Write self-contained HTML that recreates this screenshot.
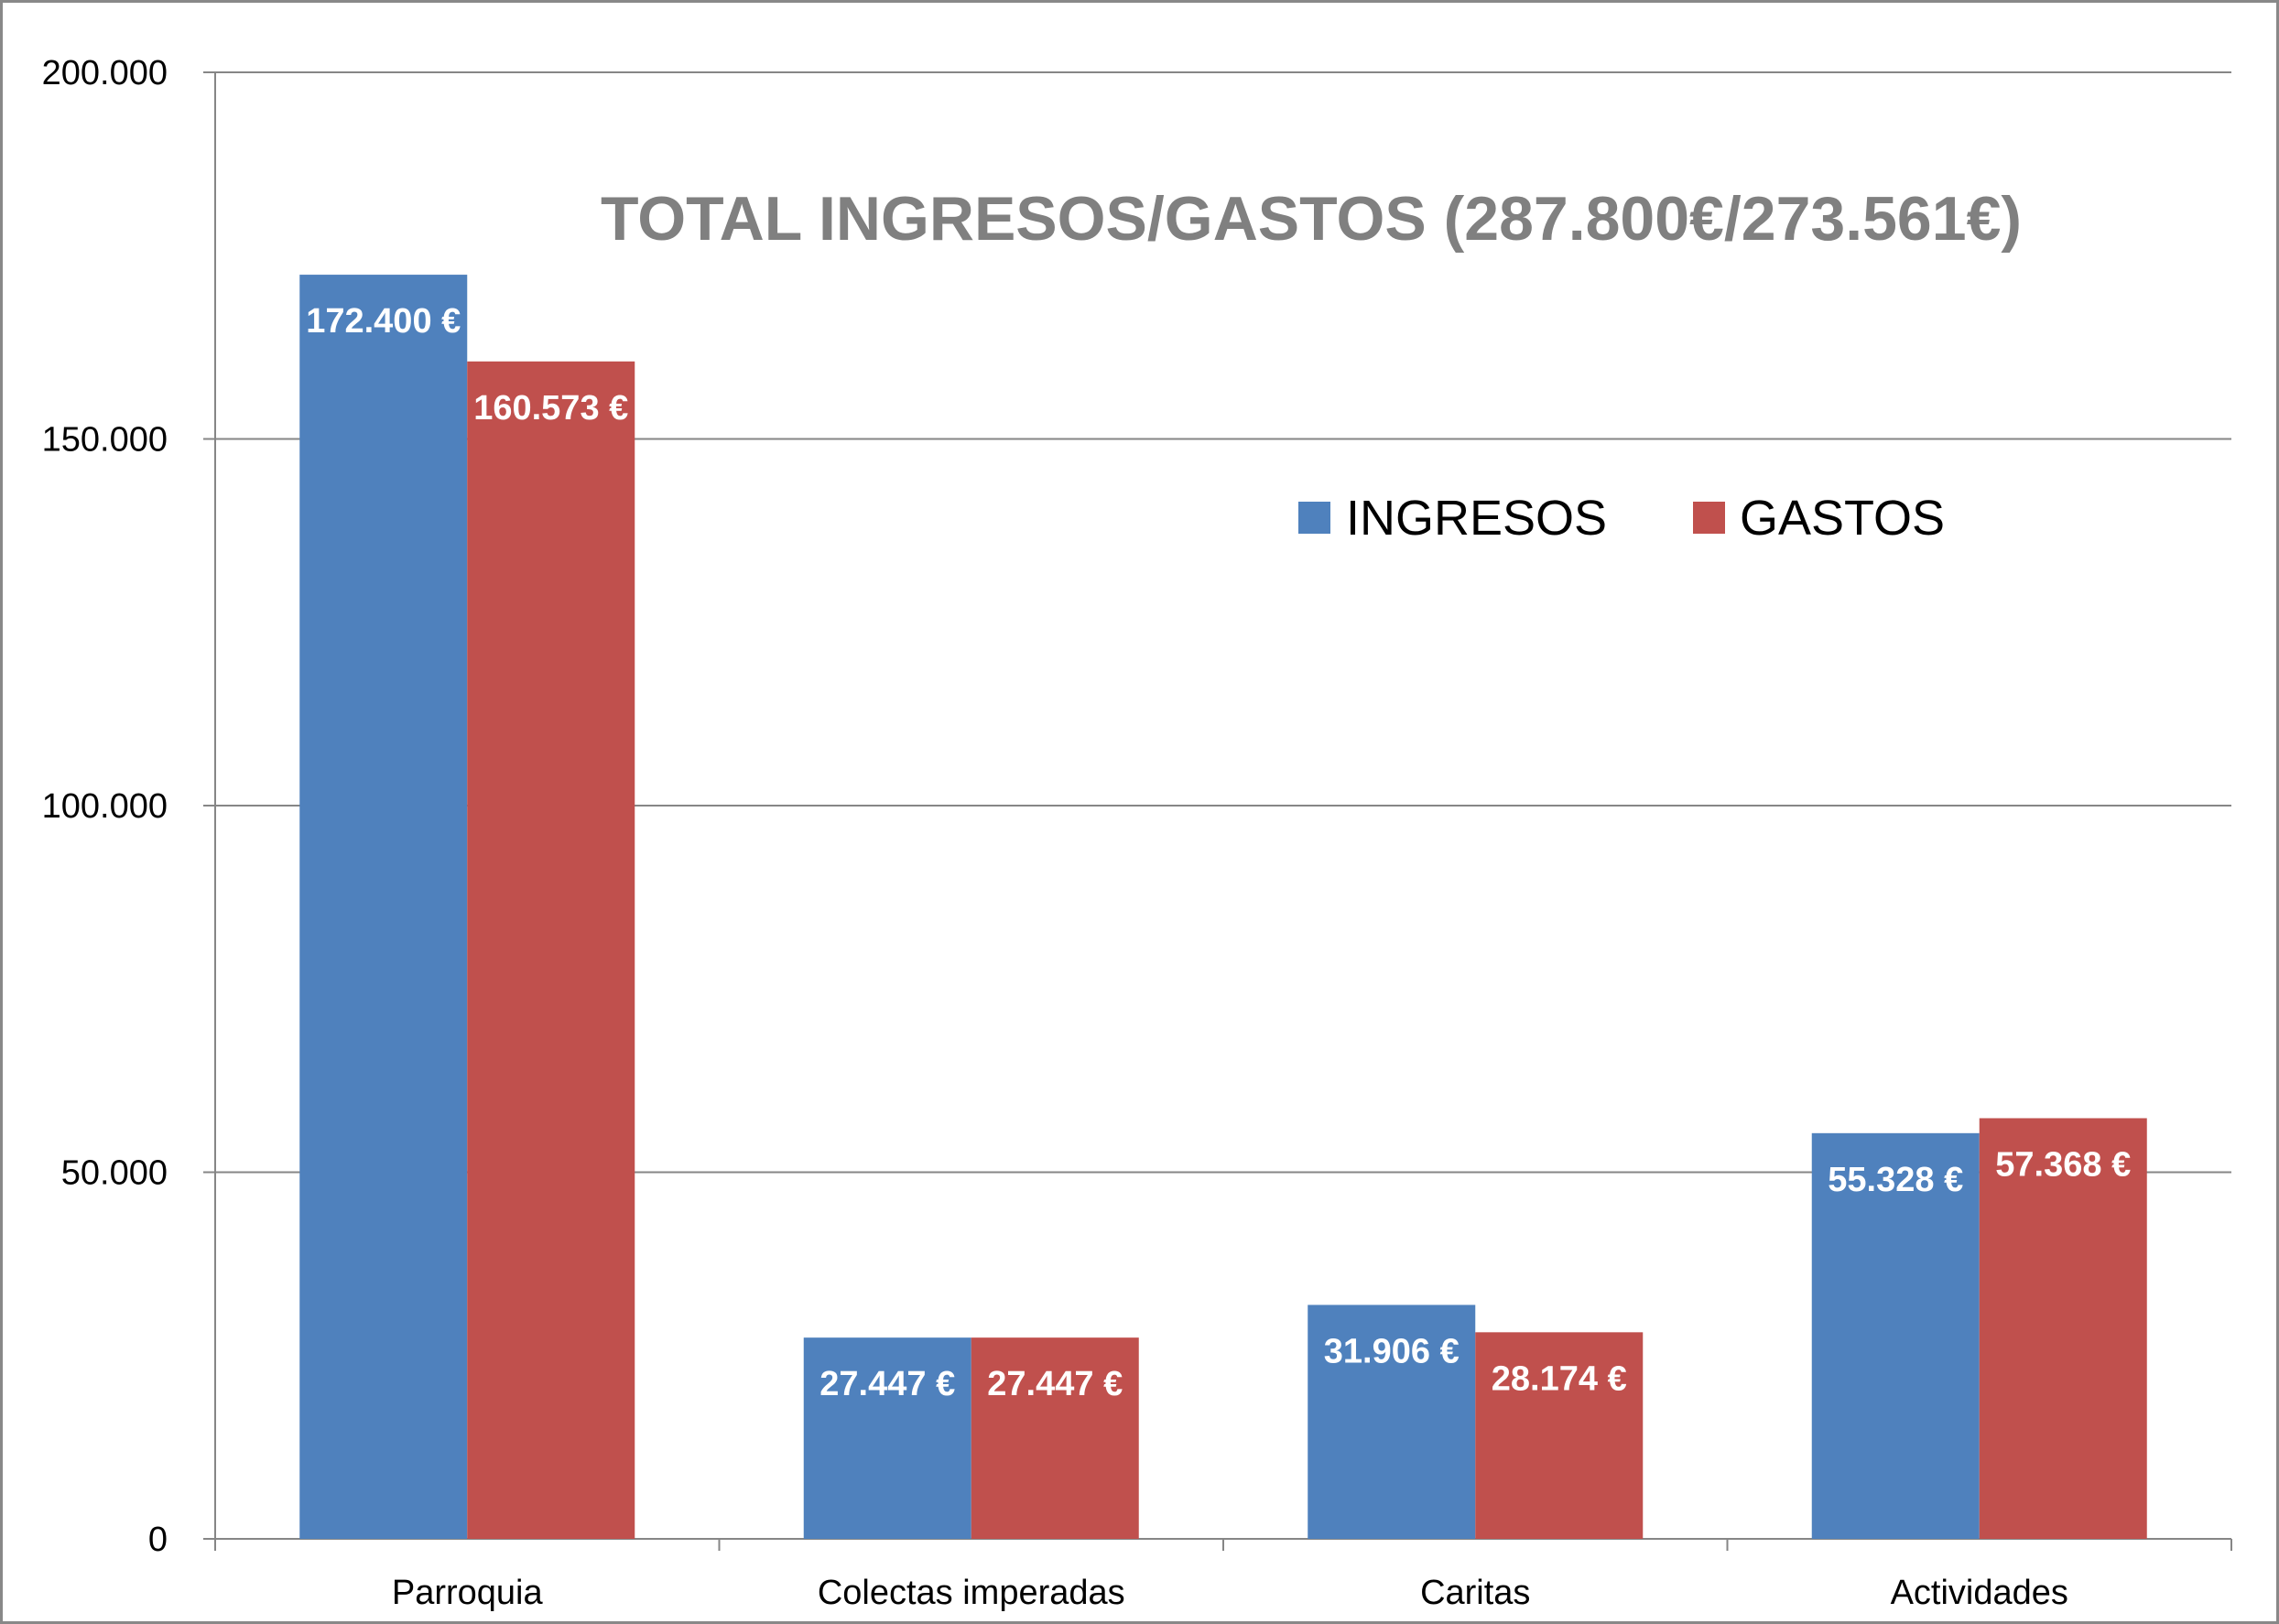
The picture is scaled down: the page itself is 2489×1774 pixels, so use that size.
<!DOCTYPE html>
<html><head><meta charset="utf-8"><style>
html,body{margin:0;padding:0;background:#fff}
svg{display:block}
text{font-family:"Liberation Sans",Calibri,sans-serif}
</style></head><body>
<svg id="chart" width="2489" height="1774" viewBox="0 0 2489 1774" xmlns="http://www.w3.org/2000/svg">
<rect x="1.5" y="1.5" width="2486" height="1771" fill="#fff" stroke="#888" stroke-width="3"/>
<g id="grid"></g>
<g id="bars"></g>
<g id="labels"></g>
<text x="1432" y="262" text-anchor="middle" font-size="68" font-weight="bold" fill="#808080">TOTAL INGRESOS/GASTOS (287.800€/273.561€)</text>
<g>
<rect x="1418" y="548" width="35" height="35" fill="#4f81bd"/>
<text x="1470" y="584" font-size="54" fill="#000">INGRESOS</text>
<rect x="1849" y="548" width="35" height="35" fill="#c0504d"/>
<text x="1900" y="584" font-size="54" fill="#000">GASTOS</text>
</g>
</svg>
<script>
const categories = ["Parroquia","Colectas imperadas","Caritas","Actividades"];
const ingresos = [172400, 27447, 31906, 55328];
const gastos = [160573, 27447, 28174, 57368];
const ingresosLabels = ["172.400 €","27.447 €","31.906 €","55.328 €"];
const gastosLabels = ["160.573 €","27.447 €","28.174 €","57.368 €"];
const tickValues = [0, 50000, 100000, 150000, 200000];
const tickLabels = ["0","50.000","100.000","150.000","200.000"];

const NS = "http://www.w3.org/2000/svg";
const L = 235, R = 2437, Y0 = 1681, Y1 = 79, YMAX = 200000;
const yScale = v => Y0 - (v / YMAX) * (Y0 - Y1);
const band = (R - L) / categories.length;
const barW = 183;
function mk(tag, attrs, parent, txt) {
  const e = document.createElementNS(NS, tag);
  for (const k in attrs) e.setAttribute(k, attrs[k]);
  if (txt !== undefined) e.textContent = txt;
  parent.appendChild(e);
  return e;
}
const grid = document.getElementById("grid");
const bars = document.getElementById("bars");
const labels = document.getElementById("labels");

tickValues.forEach((v, i) => {
  const y = yScale(v);
  if (v > 0) {
    const g = mk("line", {x1: L, x2: R, y1: y, y2: y, stroke: "#868686", "stroke-width": 2}, grid);
    
    
  }
  const t = mk("line", {x1: L - 13, x2: L, y1: y, y2: y, stroke: "#868686", "stroke-width": 2}, grid);
  
  
  const lb = mk("text", {x: 183, y: y + 13, "text-anchor": "end", "font-size": 38, fill: "#000"}, labels, tickLabels[i]);
  
  
});
const ya = mk("line", {x1: L, x2: L, y1: Y1, y2: Y0, stroke: "#868686", "stroke-width": 2}, grid);


const xa = mk("line", {x1: L, x2: R, y1: Y0, y2: Y0, stroke: "#868686", "stroke-width": 2}, grid);


for (let i = 0; i <= categories.length; i++) {
  const x = L + i * band;
  const t = mk("line", {x1: x, x2: x, y1: Y0, y2: Y0 + 13, stroke: "#868686", "stroke-width": 2}, grid);
  
  
}
categories.forEach((c, i) => {
  const cx = L + band * (i + 0.5);
  const series = [[ingresos[i], "#4f81bd", ingresosLabels[i], cx - barW, "ingresos"], [gastos[i], "#c0504d", gastosLabels[i], cx, "gastos"]];
  series.forEach(([v, col, lab, x, nm]) => {
    const y = yScale(v);
    const b = mk("rect", {x: x, y: y, width: barW, height: Y0 - y, fill: col}, bars);
    
    
    const tl = mk("text", {x: x + barW / 2, y: y + 63, "text-anchor": "middle", "font-size": 38, "font-weight": "bold", fill: "#fff"}, labels, lab);
    
    
  });
  const cl = mk("text", {x: cx, y: 1752, "text-anchor": "middle", "font-size": 38, fill: "#000"}, labels, c);
  
  
});
</script>
</body></html>
